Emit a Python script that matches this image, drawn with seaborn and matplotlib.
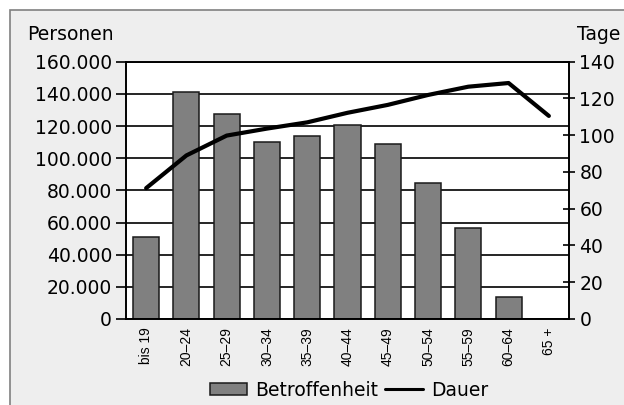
import numpy as np
import pandas as pd
import matplotlib
matplotlib.use("Agg")
import matplotlib.pyplot as plt
import matplotlib.patches as mpatches
from matplotlib.lines import Line2D
from matplotlib.ticker import FuncFormatter, FixedLocator
import seaborn as sns

# DATEN
altersgruppen = ['bis 19', '20–24', '25–29', '30–34', '35–39', '40–44',
                 '45–49', '50–54', '55–59', '60–64', '65 +']
betroffenheit = [50700, 141300, 127300, 110100, 113800, 120600,
                 108800, 84800, 56600, 13900, 0]
dauer = [71.2, 89.0, 99.8, 103.6, 107.0, 112.2, 116.5, 121.9, 126.4, 128.4, 110.5]
links_ticks = [0, 20000, 40000, 60000, 80000, 100000, 120000, 140000, 160000]
rechts_ticks = [0, 20, 40, 60, 80, 100, 120, 140]

df = pd.DataFrame({'gruppe': altersgruppen, 'personen': betroffenheit, 'tage': dauer})

sns.set_style('white')
plt.rcParams['font.family'] = ['DejaVu Sans']
plt.rcParams['text.color'] = 'black'
plt.rcParams['xtick.color'] = 'black'
plt.rcParams['ytick.color'] = 'black'
plt.rcParams['axes.labelcolor'] = 'black'

fs = 13.5

fig = plt.figure(figsize=(6.24, 4.05), dpi=100)
fig.patch.set_facecolor('white')

# grauer Rahmen
rahmen = mpatches.Rectangle((10 / 624, -0.1), 1.2, 1 - 10 / 405 + 0.1,
                            transform=fig.transFigure, facecolor='#eeeeee',
                            edgecolor='#808080', linewidth=1.2, zorder=-5)
fig.patches.append(rahmen)

ax = fig.add_axes([126 / 624, 1 - 319 / 405, (569 - 126) / 624, (319 - 61.7) / 405])
ax.set_facecolor('white')

# BALKEN
sns.barplot(data=df, x='gruppe', y='personen', color='#808080', saturation=1,
            edgecolor='#1a1a1a', linewidth=1.1, width=0.65, ax=ax, zorder=2)

ax.set_ylim(0, 160000)
ax.set_xlim(-0.5, len(altersgruppen) - 0.5)
ax.yaxis.set_major_locator(FixedLocator(links_ticks))
ax.yaxis.set_major_formatter(FuncFormatter(lambda v, p: f"{int(v):,}".replace(",", ".")))
ax.grid(axis='y', color='black', linewidth=1.2)
ax.set_axisbelow(True)
ax.tick_params(axis='y', direction='out', length=7, width=1.2, labelsize=fs, pad=3)
ax.set_xlabel('')
ax.set_ylabel('')

# x-Achse: Striche zwischen den Gruppen
ax.set_xticks(range(len(altersgruppen)))
ax.set_xticklabels(altersgruppen, rotation=90, fontsize=10, family='Liberation Sans')
ax.tick_params(axis='x', which='major', length=0, pad=6)
ax.set_xticks(np.arange(-0.5, len(altersgruppen), 1), minor=True)
ax.tick_params(axis='x', which='minor', direction='inout', length=10, width=1.2)

for s in ax.spines.values():
    s.set_color('black')
    s.set_linewidth(1.2)

# LINIE
ax2 = ax.twinx()
sns.lineplot(data=df, x='gruppe', y='tage', color='black', linewidth=3,
             sort=False, ax=ax2)
ax2.set_ylim(0, 140)
ax2.set_xlim(-0.5, len(altersgruppen) - 0.5)
ax2.yaxis.set_major_locator(FixedLocator(rechts_ticks))
ax2.tick_params(axis='y', direction='inout', length=9, width=1.2, labelsize=fs, pad=3)
ax2.set_ylabel('')
ax2.set_xlabel('')
for s in ax2.spines.values():
    s.set_color('black')
    s.set_linewidth(1.2)

fig.text(27 / 624, 1 - 35 / 405, 'Personen', fontsize=fs, va='center', ha='left')
fig.text(577 / 624, 1 - 35 / 405, 'Tage', fontsize=fs, va='center', ha='left')

# LEGENDE
handles = [mpatches.Patch(facecolor='#808080', edgecolor='#1a1a1a', linewidth=1.1),
           Line2D([0], [0], color='black', linewidth=2.2)]
fig.legend(handles, ['Betroffenheit', 'Dauer'], loc='center',
           bbox_to_anchor=(349 / 624, 1 - 390 / 405), ncol=2, frameon=False,
           fontsize=fs, handlelength=2.0, handleheight=0.6, handletextpad=0.45,
           columnspacing=0.35, borderpad=0)

fig.savefig('out.png', dpi=100)
